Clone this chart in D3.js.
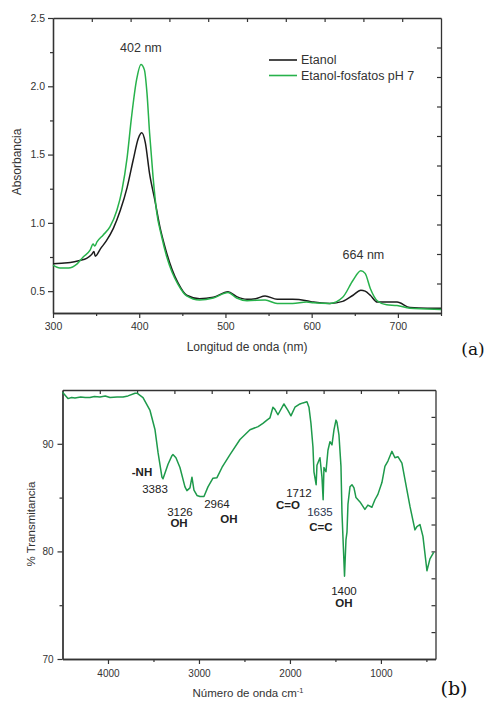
<!DOCTYPE html>
<html>
<head>
<meta charset="utf-8">
<script src="https://cdn.jsdelivr.net/npm/d3@7"></script>
<style>
  html, body { margin: 0; padding: 0; background: #ffffff; }
  svg { display: block; }
  text { font-family: "Liberation Sans", Arial, sans-serif; }
</style>
</head>
<body>
<div id="chart"></div>
<script>
// ---------- Panel (a): UV-Vis absorbance ----------
const etanolWl  = [300,310,320,331,339,345,347.5,349,355,362,370,378,386,393,399,403,407,412,418,424,430,438,445,455,470,486,503,513,525,535,546,560,578,594,602,621,636,648,657,662,668,676,687,699,714,734,750];
const etanolAbs = [0.70,0.705,0.71,0.725,0.74,0.77,0.79,0.755,0.81,0.87,0.96,1.09,1.26,1.46,1.62,1.66,1.59,1.36,1.17,0.97,0.82,0.66,0.56,0.47,0.445,0.455,0.495,0.46,0.44,0.445,0.465,0.44,0.44,0.43,0.42,0.41,0.425,0.47,0.507,0.50,0.47,0.42,0.42,0.42,0.38,0.375,0.375];

const fosfWl  = [300,308,318,328,335,343,346.5,348.5,351,358,366,374,380,386,391,397,402,406,409,412,416,420,426,432,438,445,455,470,486,503,513,525,546,560,578,594,602,621,636,648,657,662,668,676,687,699,714,734,750];
const fosfAbs = [0.69,0.67,0.67,0.70,0.75,0.80,0.845,0.83,0.86,0.91,0.97,1.09,1.24,1.48,1.77,2.05,2.16,2.12,1.95,1.66,1.34,1.09,0.90,0.75,0.64,0.55,0.465,0.435,0.45,0.49,0.45,0.43,0.435,0.41,0.41,0.42,0.415,0.41,0.455,0.58,0.65,0.63,0.52,0.43,0.40,0.395,0.375,0.37,0.365];

const seriesNamesA = ["Etanol", "Etanol-fosfatos pH 7"];
const xTicksA = [300,400,500,600,700];
const xMinorA = [350,450,550,650,750];
const yTicksA = [0.5,1.0,1.5,2.0,2.5];
const yMinorA = [0.75,1.25,1.75,2.25];
const peakLabelsA = [{wl: 402, abs: 2.16, text: "402 nm"}, {wl: 660, abs: 0.65, text: "664 nm"}];

// ---------- Panel (b): FTIR transmittance ----------
const irWn = [4500,4440,4400,4363,4300,4250,4198,4150,4088,4030,3978,3900,3835,3780,3703,3681,3615,3538,3483,3450,3407,3395,3340,3297,3286,3253,3209,3154,3132,3099,3077,3055,3022,2989,2945,2901,2846,2802,2747,2659,2549,2439,2350,2297,2253,2220,2187,2165,2132,2066,2022,1989,1945,1890,1857,1813,1791,1769,1747,1736,1712,1703,1670,1648,1635,1626,1604,1582,1560,1538,1516,1494,1483,1461,1439,1428,1400,1384,1373,1362,1340,1318,1296,1274,1230,1176,1143,1099,1066,1033,989,956,923,879,846,813,769,736,681,626,604,571,538,494,461,420];
const irT  = [94.8,94.2,94.3,94.25,94.35,94.3,94.3,94.4,94.35,94.45,94.3,94.35,94.35,94.45,94.7,94.7,94.3,93.1,91.3,89.2,86.9,86.75,88.1,88.9,89.0,88.7,87.8,86.0,85.65,85.9,86.9,85.7,85.2,85.1,85.1,86.0,86.8,86.85,87.8,89.0,90.4,91.3,91.6,91.9,92.2,92.4,93.4,93.2,92.7,93.7,93.1,92.6,93.4,93.7,93.8,93.9,93.4,91.9,89.7,87.4,86.2,88.0,88.7,86.9,84.8,87.8,87.4,89.4,90.2,89.9,91.3,92.2,92.0,90.8,87.9,83.6,77.7,81.1,81.8,84.4,86.0,86.2,85.9,85.0,84.6,83.9,84.3,84.1,84.8,85.3,86.4,87.9,88.4,89.3,88.7,88.8,88.2,86.7,84.2,82.0,82.3,82.5,81.4,78.2,79.3,79.9];

const xTicksB = [4000,3000,2000,1000];
const xMinorB = [3500,2500,1500,500];
const yTicksB = [70,80,90];
const yMinorB = [75,85];

// band annotations placed at (wavenumber, %T) positions in data space
const bandLabels = [
  {text: "-NH",  wn: 3626, t: 87.0,  bold: true},
  {text: "3383", wn: 3483, t: 85.43, bold: false},
  {text: "3126", wn: 3209, t: 83.29, bold: false},
  {text: "OH",   wn: 3219, t: 82.27, bold: true},
  {text: "2964", wn: 2802, t: 84.03, bold: false},
  {text: "OH",   wn: 2670, t: 82.64, bold: true},
  {text: "1712", wn: 1901, t: 85.06, bold: false},
  {text: "C=O",  wn: 2021, t: 83.94, bold: true},
  {text: "1635", wn: 1670, t: 83.29, bold: false},
  {text: "C=C",  wn: 1659, t: 81.9,  bold: true},
  {text: "1400", wn: 1406, t: 75.95, bold: false},
  {text: "OH",   wn: 1406, t: 74.83, bold: true}
];

// ---------- Drawing ----------
const W = 485, H = 705;
const svg = d3.select("#chart").append("svg").attr("width", W).attr("height", H);

const axisColor = "#333333";
const textColor = "#333333";
const blackLine = "#1c1c1c";
const greenA = "#27b24b";
const greenB = "#1e9a4b";

function styleAxis(g) {
  g.select(".domain").attr("stroke", axisColor).attr("stroke-width", 1.3);
  g.selectAll(".tick line").attr("stroke", axisColor).attr("stroke-width", 1.2);
  g.selectAll(".tick text").attr("fill", textColor)
    .style("font-family", "'Liberation Sans', Arial, sans-serif");
}

// ===== Panel a =====
const xa = d3.scaleLinear().domain([300, 750]).range([53, 441]);
const ya = d3.scaleLinear().domain([0.34, 2.5]).range([313, 18]);
const ga = svg.append("g");

ga.append("g").attr("transform", "translate(0,313)")
  .call(d3.axisBottom(xa).tickValues(xMinorA).tickSize(3).tickFormat("").tickSizeOuter(0))
  .call(styleAxis);
ga.append("g").attr("transform", "translate(53,0)")
  .call(d3.axisLeft(ya).tickValues(yMinorA).tickSize(3).tickFormat("").tickSizeOuter(0))
  .call(styleAxis);
ga.append("g").attr("transform", "translate(0,313)")
  .call(d3.axisBottom(xa).tickValues(xTicksA).tickSize(5).tickPadding(5).tickSizeOuter(0).tickFormat(d3.format("d")))
  .call(styleAxis)
  .call(g => g.selectAll(".tick text").attr("font-size", 10.5));
ga.append("g").attr("transform", "translate(53,0)")
  .call(d3.axisLeft(ya).tickValues(yTicksA).tickSize(5).tickPadding(3).tickSizeOuter(0).tickFormat(d3.format(".1f")))
  .call(styleAxis)
  .call(g => g.selectAll(".tick text").attr("font-size", 10.5));
const fracA_x = d3.scaleLinear().domain([0, 10]).range([53, 441]);
const fracA_y = d3.scaleLinear().domain([0, 10]).range([313, 18]);
ga.append("g").attr("transform", "translate(0,18)")
  .call(d3.axisBottom(fracA_x).tickValues(d3.range(1, 10)).tickSize(4).tickFormat("").tickSizeOuter(0))
  .call(styleAxis);
ga.append("g").attr("transform", "translate(441,0)")
  .call(d3.axisLeft(fracA_y).tickValues(d3.range(1, 10)).tickSize(4).tickFormat("").tickSizeOuter(0))
  .call(styleAxis);

const lineA = d3.line().x(d => xa(d[0])).y(d => ya(d[1])).curve(d3.curveMonotoneX);
const etanolPts = etanolWl.map((w, i) => [w, etanolAbs[i]]);
const fosfPts = fosfWl.map((w, i) => [w, fosfAbs[i]]);
ga.append("path").datum(etanolPts).attr("d", lineA).attr("fill", "none")
  .attr("stroke", blackLine).attr("stroke-width", 1.5);
ga.append("path").datum(fosfPts).attr("d", lineA).attr("fill", "none")
  .attr("stroke", greenA).attr("stroke-width", 1.5);

peakLabelsA.forEach(p => {
  ga.append("text").attr("x", xa(p.wl)).attr("y", ya(p.abs) - 12)
    .attr("text-anchor", "middle").attr("font-size", 12.5).attr("fill", textColor).text(p.text);
});

const legA = ga.append("g");
[[seriesNamesA[0], blackLine], [seriesNamesA[1], greenA]].forEach((s, i) => {
  const y = 60 + i * 15.5;
  legA.append("line").attr("x1", 269).attr("x2", 297).attr("y1", y).attr("y2", y)
    .attr("stroke", s[1]).attr("stroke-width", 1.6);
  legA.append("text").attr("x", 301).attr("y", y + 4.3).attr("font-size", 12.5)
    .attr("fill", textColor).text(s[0]);
});

ga.append("text").attr("x", 247).attr("y", 351).attr("text-anchor", "middle")
  .attr("font-size", 12).attr("fill", textColor).text("Longitud de onda (nm)");
ga.append("text").attr("transform", "translate(21,162) rotate(-90)").attr("text-anchor", "middle")
  .attr("font-size", 12).attr("fill", textColor).text("Absorbancia");
svg.append("text").attr("x", 473).attr("y", 355).attr("text-anchor", "middle")
  .style("font-family", "'DejaVu Serif', serif").attr("font-size", 17).attr("fill", "#111").text("(a)");

// ===== Panel b =====
const xb = d3.scaleLinear().domain([4500, 400]).range([62.5, 435.5]);
const yb = d3.scaleLinear().domain([70, 95]).range([659, 390]);
const gb = svg.append("g");

gb.append("g").attr("transform", "translate(0,659)")
  .call(d3.axisBottom(xb).tickValues(xMinorB).tickSize(3).tickFormat("").tickSizeOuter(0))
  .call(styleAxis);
gb.append("g").attr("transform", "translate(62.5,0)")
  .call(d3.axisLeft(yb).tickValues(yMinorB).tickSize(3).tickFormat("").tickSizeOuter(0))
  .call(styleAxis);
gb.append("g").attr("transform", "translate(0,659)")
  .call(d3.axisBottom(xb).tickValues(xTicksB).tickSize(5).tickPadding(6).tickSizeOuter(0).tickFormat(d3.format("d")))
  .call(styleAxis)
  .call(g => g.selectAll(".tick text").attr("font-size", 10));
gb.append("g").attr("transform", "translate(62.5,0)")
  .call(d3.axisLeft(yb).tickValues(yTicksB).tickSize(5).tickPadding(4).tickSizeOuter(0).tickFormat(d3.format("d")))
  .call(styleAxis)
  .call(g => g.selectAll(".tick text").attr("font-size", 10));
const fracB_x = d3.scaleLinear().domain([0, 10]).range([62.5, 435.5]);
const fracB_y = d3.scaleLinear().domain([0, 10]).range([659, 390]);
gb.append("g").attr("transform", "translate(0,390)")
  .call(d3.axisBottom(fracB_x).tickValues(d3.range(1, 10)).tickSize(4).tickFormat("").tickSizeOuter(0))
  .call(styleAxis);
gb.append("g").attr("transform", "translate(435.5,0)")
  .call(d3.axisLeft(fracB_y).tickValues(d3.range(1, 10)).tickSize(4).tickFormat("").tickSizeOuter(0))
  .call(styleAxis);

const lineB = d3.line().x(d => xb(d[0])).y(d => yb(d[1])).curve(d3.curveLinear);
const irPts = irWn.map((w, i) => [w, irT[i]]);
gb.append("path").datum(irPts).attr("d", lineB).attr("fill", "none")
  .attr("stroke", greenB).attr("stroke-width", 1.5).attr("stroke-linejoin", "round");

bandLabels.forEach(b => {
  gb.append("text").attr("x", xb(b.wn)).attr("y", yb(b.t)).attr("text-anchor", "middle")
    .attr("font-size", 11.5).attr("font-weight", b.bold ? "bold" : "normal")
    .attr("fill", b.text === "1635" ? "#2a3550" : "#222").text(b.text);
});

const xt = gb.append("text").attr("x", 248).attr("y", 697).attr("text-anchor", "middle")
  .attr("font-size", 11.5).attr("fill", textColor);
xt.append("tspan").text("Número de onda cm");
xt.append("tspan").attr("dy", -4).attr("font-size", 7.5).text("-1");
gb.append("text").attr("transform", "translate(35,524) rotate(-90)").attr("text-anchor", "middle")
  .attr("font-size", 11.5).attr("fill", textColor).text("% Transmitancia");
svg.append("text").attr("x", 454).attr("y", 695).attr("text-anchor", "middle")
  .style("font-family", "'DejaVu Serif', serif").attr("font-size", 19).attr("fill", "#111").text("(b)");
</script>
</body>
</html>
